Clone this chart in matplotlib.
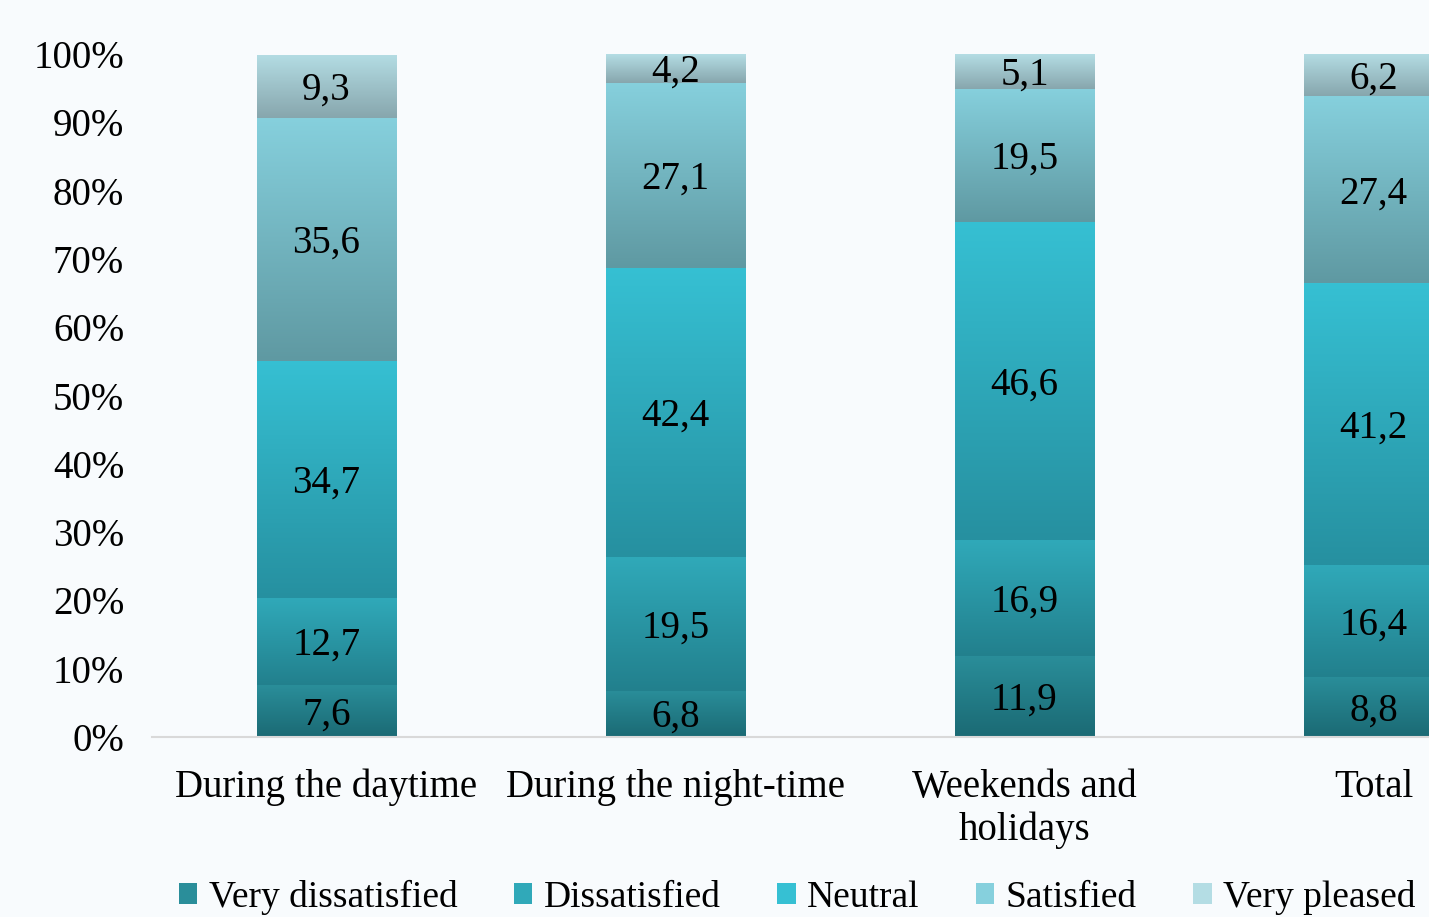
import matplotlib.pyplot as plt
import numpy as np
from matplotlib.colors import LinearSegmentedColormap
from matplotlib.patches import Patch

plt.rcParams['font.family'] = ['Liberation Serif', 'DejaVu Serif']

categories = ["During the daytime", "During the night-time", "Weekends and\nholidays", "Total"]
levels = ["Very dissatisfied", "Dissatisfied", "Neutral", "Satisfied", "Very pleased"]
very_dissatisfied = [7.6, 6.8, 11.9, 8.8]
dissatisfied = [12.7, 19.5, 16.9, 16.4]
neutral = [34.7, 42.4, 46.6, 41.2]
satisfied = [35.6, 27.1, 19.5, 27.4]
very_pleased = [9.3, 4.2, 5.1, 6.2]
series = [very_dissatisfied, dissatisfied, neutral, satisfied, very_pleased]

# (top colour, bottom colour) of each segment's vertical gradient
shades = [("#2a8e9a", "#1b6a74"),
          ("#30a9b9", "#22808d"),
          ("#36c0d3", "#2690a0"),
          ("#86d0dd", "#5f99a2"),
          ("#b4dde4", "#87a6ad")]

bg = "#f8fbfd"
fig = plt.figure(figsize=(14.29, 9.17), dpi=100, facecolor=bg)
ax = fig.add_axes([152 / 1429, 180 / 917, 1396 / 1429, 683 / 917])
ax.set_facecolor(bg)

x = np.arange(len(categories))
width = 0.40
grad = np.linspace(1, 0, 256).reshape(-1, 1)
bottom = np.zeros(len(categories))
for vals, (top_c, bot_c) in zip(series, shades):
    cmap = LinearSegmentedColormap.from_list("g", [bot_c, top_c])
    bars = ax.bar(x, vals, width, bottom=bottom, color=top_c, linewidth=0)
    for bar, v, b in zip(bars, vals, bottom):
        bx, by = bar.get_x(), bar.get_y()
        im = ax.imshow(grad, cmap=cmap, aspect="auto", origin="upper",
                       extent=[bx, bx + bar.get_width(), by, by + bar.get_height()],
                       zorder=bar.get_zorder() + 0.1, vmin=0, vmax=1)
        im.set_clip_path(bar)
        ax.text(bar.get_x() + width / 2, b + v / 2 - 0.55, f"{v:.1f}".replace(".", ","),
                ha="center", va="center", fontsize=28, color="black", zorder=5)
    bottom += np.array(vals)

ax.set_xlim(-0.5, len(categories) - 0.5)
ax.set_ylim(0, 100)
ax.set_yticks(np.arange(0, 101, 10))
ax.set_yticklabels([f"{t}%" for t in range(0, 101, 10)], fontsize=28)
ax.set_xticks(x)
ax.set_xticklabels(categories, fontsize=28, linespacing=1.2)
ax.tick_params(axis="x", length=0, pad=23)
ax.tick_params(axis="y", length=0, pad=20)
for side in ["top", "right", "left"]:
    ax.spines[side].set_visible(False)
ax.spines["bottom"].set_color("#d9d9d9")
ax.spines["bottom"].set_linewidth(1.5)

handles = [Patch(facecolor=c[0], edgecolor="none") for c in shades]
fig.legend(handles, levels, loc="center", bbox_to_anchor=(797 / 1429, 20 / 917),
           ncol=5, frameon=False, fontsize=27, handlelength=0.5, handleheight=0.5,
           handletextpad=0.3, columnspacing=1.5, borderaxespad=0)

fig.savefig("out.png", dpi=100, facecolor=bg)
